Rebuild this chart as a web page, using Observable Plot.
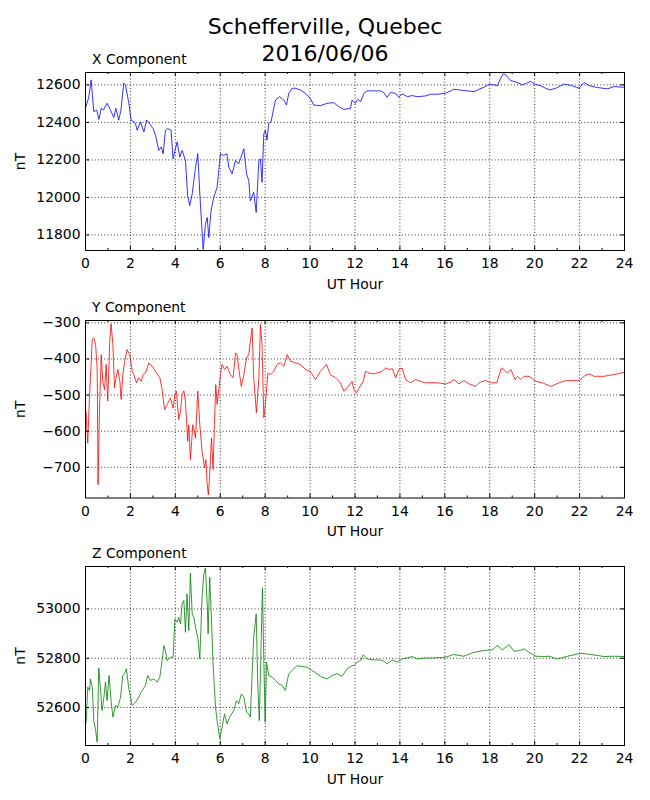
<!DOCTYPE html>
<html>
<head>
<meta charset="utf-8">
<script src="https://cdn.jsdelivr.net/npm/d3@7"></script>
<script src="https://cdn.jsdelivr.net/npm/@observablehq/plot@0.6"></script>
<style>
  html, body { margin: 0; padding: 0; background: #fff; }
  #root { position: relative; width: 650px; height: 800px; font-family: "DejaVu Sans", sans-serif; color: #000; }
  .t { position: absolute; white-space: nowrap; line-height: 1; }
  .title { font-size: 22px; left: 0; width: 650px; text-align: center; }
  .sub { font-size: 13.9px; left: 92px; }
  .panel { position: absolute; left: 0; }
</style>
</head>
<body>
<div id="root">
  <div class="t title" style="top:15.5px">Schefferville, Quebec</div>
  <div class="t title" style="top:43px">2016/06/06</div>
  <div class="t sub" style="top:53px">X Component</div>
  <div class="t sub" style="top:301px">Y Component</div>
  <div class="t sub" style="top:547px">Z Component</div>
</div>
<script>
// ---- Data (UT hour, nT) ----
const xHours = [0.02,0.15,0.25,0.37,0.5,0.6,0.7,0.8,0.96,1.1,1.26,1.35,1.48,1.58,1.7,1.78,1.93,2.03,2.15,2.23,2.3,2.45,2.6,2.72,2.85,3.01,3.12,3.26,3.37,3.46,3.56,3.66,3.81,3.9,4.08,4.2,4.3,4.45,4.55,4.64,4.75,4.9,5.0,5.09,5.24,5.34,5.42,5.49,5.59,5.71,5.86,6.01,6.15,6.3,6.38,6.53,6.68,6.82,6.9,7.05,7.17,7.27,7.34,7.49,7.6,7.72,7.79,7.86,7.94,8.01,8.08,8.16,8.26,8.46,8.65,8.83,8.95,9.05,9.2,9.35,9.57,9.79,10.01,10.16,10.46,10.76,11.05,11.28,11.5,11.8,11.87,12.02,12.13,12.25,12.4,12.54,12.83,13.13,13.28,13.43,13.58,13.8,13.95,14.1,14.33,14.55,14.77,15.14,15.37,15.66,16.03,16.26,16.4,16.85,17.3,17.52,17.74,17.97,18.19,18.34,18.49,18.6,18.71,18.93,19.23,19.45,19.64,19.82,20.0,20.27,20.49,20.68,20.94,21.31,21.6,21.98,22.2,22.42,22.79,23.24,23.54,24.0];
const xValues = [12484,12537,12627,12457,12466,12416,12475,12466,12502,12469,12426,12475,12412,12466,12609,12600,12502,12412,12403,12391,12358,12403,12349,12412,12394,12367,12331,12251,12269,12233,12358,12367,12358,12206,12296,12215,12251,12197,12009,11956,12018,12161,12233,12018,11723,11857,11893,11786,11929,12000,12054,12233,12224,12233,12161,12126,12197,12179,12206,12260,12126,12090,11982,12027,11920,12197,12206,12081,12340,12358,12305,12394,12403,12519,12537,12519,12493,12555,12582,12582,12573,12555,12528,12493,12489,12502,12505,12484,12469,12475,12519,12502,12523,12510,12555,12568,12568,12568,12559,12534,12559,12555,12534,12552,12537,12543,12537,12541,12550,12550,12555,12568,12577,12570,12564,12577,12587,12604,12600,12595,12636,12659,12654,12623,12613,12600,12609,12618,12604,12595,12582,12573,12582,12604,12598,12582,12613,12596,12586,12579,12591,12587];

const yHours = [0.02,0.1,0.16,0.22,0.3,0.37,0.45,0.52,0.56,0.62,0.7,0.77,0.85,0.92,0.99,1.08,1.14,1.22,1.29,1.36,1.44,1.53,1.59,1.66,1.75,1.85,1.97,2.08,2.15,2.27,2.37,2.48,2.57,2.67,2.82,2.97,3.16,3.31,3.41,3.52,3.64,3.78,3.9,3.98,4.05,4.15,4.23,4.3,4.38,4.45,4.55,4.6,4.67,4.78,4.9,5.0,5.09,5.19,5.3,5.36,5.42,5.47,5.53,5.61,5.68,5.74,5.8,5.86,5.93,6.01,6.08,6.19,6.3,6.45,6.57,6.68,6.75,6.84,6.94,7.05,7.17,7.27,7.34,7.42,7.49,7.61,7.72,7.79,7.86,7.94,7.98,8.06,8.12,8.23,8.38,8.53,8.68,8.83,8.98,9.12,9.35,9.57,9.79,10.01,10.24,10.46,10.73,10.9,11.13,11.35,11.5,11.65,11.87,11.95,12.07,12.22,12.37,12.47,12.62,12.84,13.07,13.21,13.36,13.51,13.66,13.81,13.95,14.1,14.25,14.47,14.7,14.92,15.14,15.66,16.03,16.26,16.4,16.63,16.85,17.08,17.37,17.57,17.82,18.05,18.31,18.52,18.67,18.79,18.94,19.12,19.23,19.38,19.53,19.75,20.05,20.34,20.72,21.09,21.38,21.98,22.2,22.42,22.64,23.09,23.54,24.0];
const yValues = [-545,-633,-531,-452,-346,-342,-360,-425,-748,-545,-388,-462,-485,-415,-517,-351,-303,-360,-480,-452,-429,-462,-512,-443,-406,-374,-388,-434,-443,-466,-452,-462,-443,-439,-411,-420,-439,-452,-485,-540,-526,-508,-536,-499,-489,-568,-545,-499,-488,-517,-628,-582,-679,-582,-619,-489,-582,-656,-702,-679,-748,-776,-720,-619,-706,-582,-471,-526,-489,-443,-415,-429,-420,-443,-452,-383,-388,-434,-476,-443,-397,-388,-351,-314,-452,-549,-452,-305,-360,-563,-545,-489,-439,-443,-434,-415,-411,-420,-388,-406,-411,-415,-429,-434,-457,-434,-415,-443,-452,-466,-489,-480,-462,-485,-494,-476,-462,-434,-439,-441,-437,-434,-425,-429,-427,-452,-429,-425,-457,-466,-457,-462,-466,-466,-469,-464,-457,-469,-460,-469,-476,-464,-460,-466,-466,-425,-432,-439,-429,-457,-448,-457,-448,-448,-462,-466,-476,-466,-460,-460,-448,-441,-448,-448,-443,-437];

const zHours = [0.03,0.1,0.18,0.22,0.3,0.37,0.45,0.52,0.59,0.67,0.74,0.82,0.89,0.96,1.05,1.14,1.22,1.34,1.44,1.56,1.66,1.75,1.82,1.93,2.08,2.23,2.37,2.52,2.67,2.77,2.89,3.04,3.19,3.31,3.41,3.49,3.56,3.63,3.78,3.9,3.98,4.08,4.15,4.23,4.3,4.38,4.45,4.52,4.6,4.67,4.75,4.82,4.9,5.0,5.09,5.19,5.27,5.34,5.42,5.46,5.53,5.61,5.68,5.79,5.86,5.98,6.08,6.19,6.3,6.42,6.6,6.72,6.82,6.94,7.05,7.17,7.27,7.34,7.42,7.49,7.6,7.67,7.74,7.82,7.88,7.94,8.0,8.06,8.16,8.31,8.46,8.61,8.76,8.9,9.05,9.2,9.42,9.64,9.87,10.09,10.31,10.53,10.76,10.98,11.2,11.42,11.65,11.87,11.95,12.1,12.25,12.37,12.54,12.84,13.13,13.28,13.43,13.66,13.88,14.1,14.33,14.55,14.77,15.14,15.51,16.03,16.4,16.85,17.3,17.74,18.11,18.34,18.56,18.86,19.08,19.31,19.53,19.75,20.05,20.34,20.64,21.01,21.46,22.05,22.5,23.09,23.54,24.0];
const zValues = [52541,52683,52669,52716,52683,52547,52507,52460,52761,52669,52588,52642,52703,52628,52730,52628,52561,52608,52601,52642,52730,52739,52757,52676,52608,52622,52642,52669,52689,52730,52710,52716,52703,52723,52791,52851,52831,52791,52804,52804,52959,52946,52966,52939,53020,53034,52905,53061,52912,53145,52980,52966,52926,52885,52797,53047,53142,53166,53020,52899,53128,52953,52777,52601,52547,52473,52520,52574,52534,52561,52588,52628,52615,52655,52642,52581,52574,52561,52737,52885,52980,52696,52547,52858,53085,52791,52541,52784,52730,52723,52710,52696,52689,52669,52737,52750,52770,52766,52764,52750,52737,52723,52716,52730,52737,52726,52757,52770,52770,52784,52791,52814,52797,52793,52793,52788,52777,52793,52784,52797,52801,52807,52797,52801,52801,52804,52815,52808,52824,52831,52834,52851,52834,52855,52828,52831,52838,52824,52808,52807,52808,52797,52808,52820,52815,52807,52808,52807];

// Axis ticks
const hourMajor = [0,2,4,6,8,10,12,14,16,18,20,22,24];
const hourMinor = [1,3,5,7,9,11,13,15,17,19,21,23];
const xTicksY = [11800,12000,12200,12400,12600];
const yTicksY = [-700,-600,-500,-400,-300];
const zTicksY = [52600,52800,53000];

const W = 650, ML = 85, MR = 26, MT = 10, MB = 45;
const PW = W - ML - MR;
const fmtNum = d3.format("d");

function panel({hours, values, color, domain, ticks, top, h}) {
  const data = hours.map((t, i) => ({t, v: values[i]}));
  const fig = Plot.plot({
    width: W,
    height: MT + h + MB,
    marginLeft: ML, marginRight: MR, marginTop: MT, marginBottom: MB,
    style: {fontFamily: "DejaVu Sans, sans-serif", fontSize: "13.9px", color: "#000", background: "transparent", overflow: "visible"},
    x: {domain: [0, 24]},
    y: {domain},
    marks: [
      Plot.gridX(hourMajor, {stroke: "#000", strokeOpacity: 1, strokeWidth: 0.8, strokeDasharray: "1,2.2"}),
      Plot.gridY(ticks, {stroke: "#000", strokeOpacity: 1, strokeWidth: 0.8, strokeDasharray: "1,2.2"}),
      Plot.line(data, {x: "t", y: "v", stroke: color, strokeWidth: 0.8}),
      // inward ticks, matplotlib classic style
      Plot.ruleX(hourMajor, {x: d => d, stroke: "#000", insetTop: h - 4}),
      Plot.ruleX(hourMajor, {x: d => d, stroke: "#000", insetBottom: h - 4}),
      Plot.ruleX(hourMinor, {x: d => d, stroke: "#000", insetTop: h - 2}),
      Plot.ruleX(hourMinor, {x: d => d, stroke: "#000", insetBottom: h - 2}),
      Plot.ruleY(ticks, {y: d => d, stroke: "#000", insetRight: PW - 4}),
      Plot.ruleY(ticks, {y: d => d, stroke: "#000", insetLeft: PW - 4}),
      Plot.frame({stroke: "#000", strokeWidth: 1}),
      Plot.axisX(hourMajor, {tickSize: 0, tickPadding: 8, label: "UT Hour", labelAnchor: "center", labelArrow: "none", labelOffset: 38, tickFormat: d => String(d)}),
      Plot.axisY(ticks, {tickSize: 0, tickPadding: 5, label: "nT", labelAnchor: "center", labelArrow: "none", labelOffset: 70, tickFormat: fmtNum})
    ]
  });
  fig.classList.add("panel");
  fig.style.top = (top - MT) + "px";
  document.getElementById("root").appendChild(fig);
}

panel({hours: xHours, values: xValues, color: "#0000ff", domain: [11717, 12666], ticks: xTicksY, top: 72, h: 178});
panel({hours: yHours, values: yValues, color: "#ff0000", domain: [-785, -293.5], ticks: yTicksY, top: 319.5, h: 177.5});
panel({hours: zHours, values: zValues, color: "#008000", domain: [52446, 53172], ticks: zTicksY, top: 566, h: 179});
</script>
</body>
</html>
